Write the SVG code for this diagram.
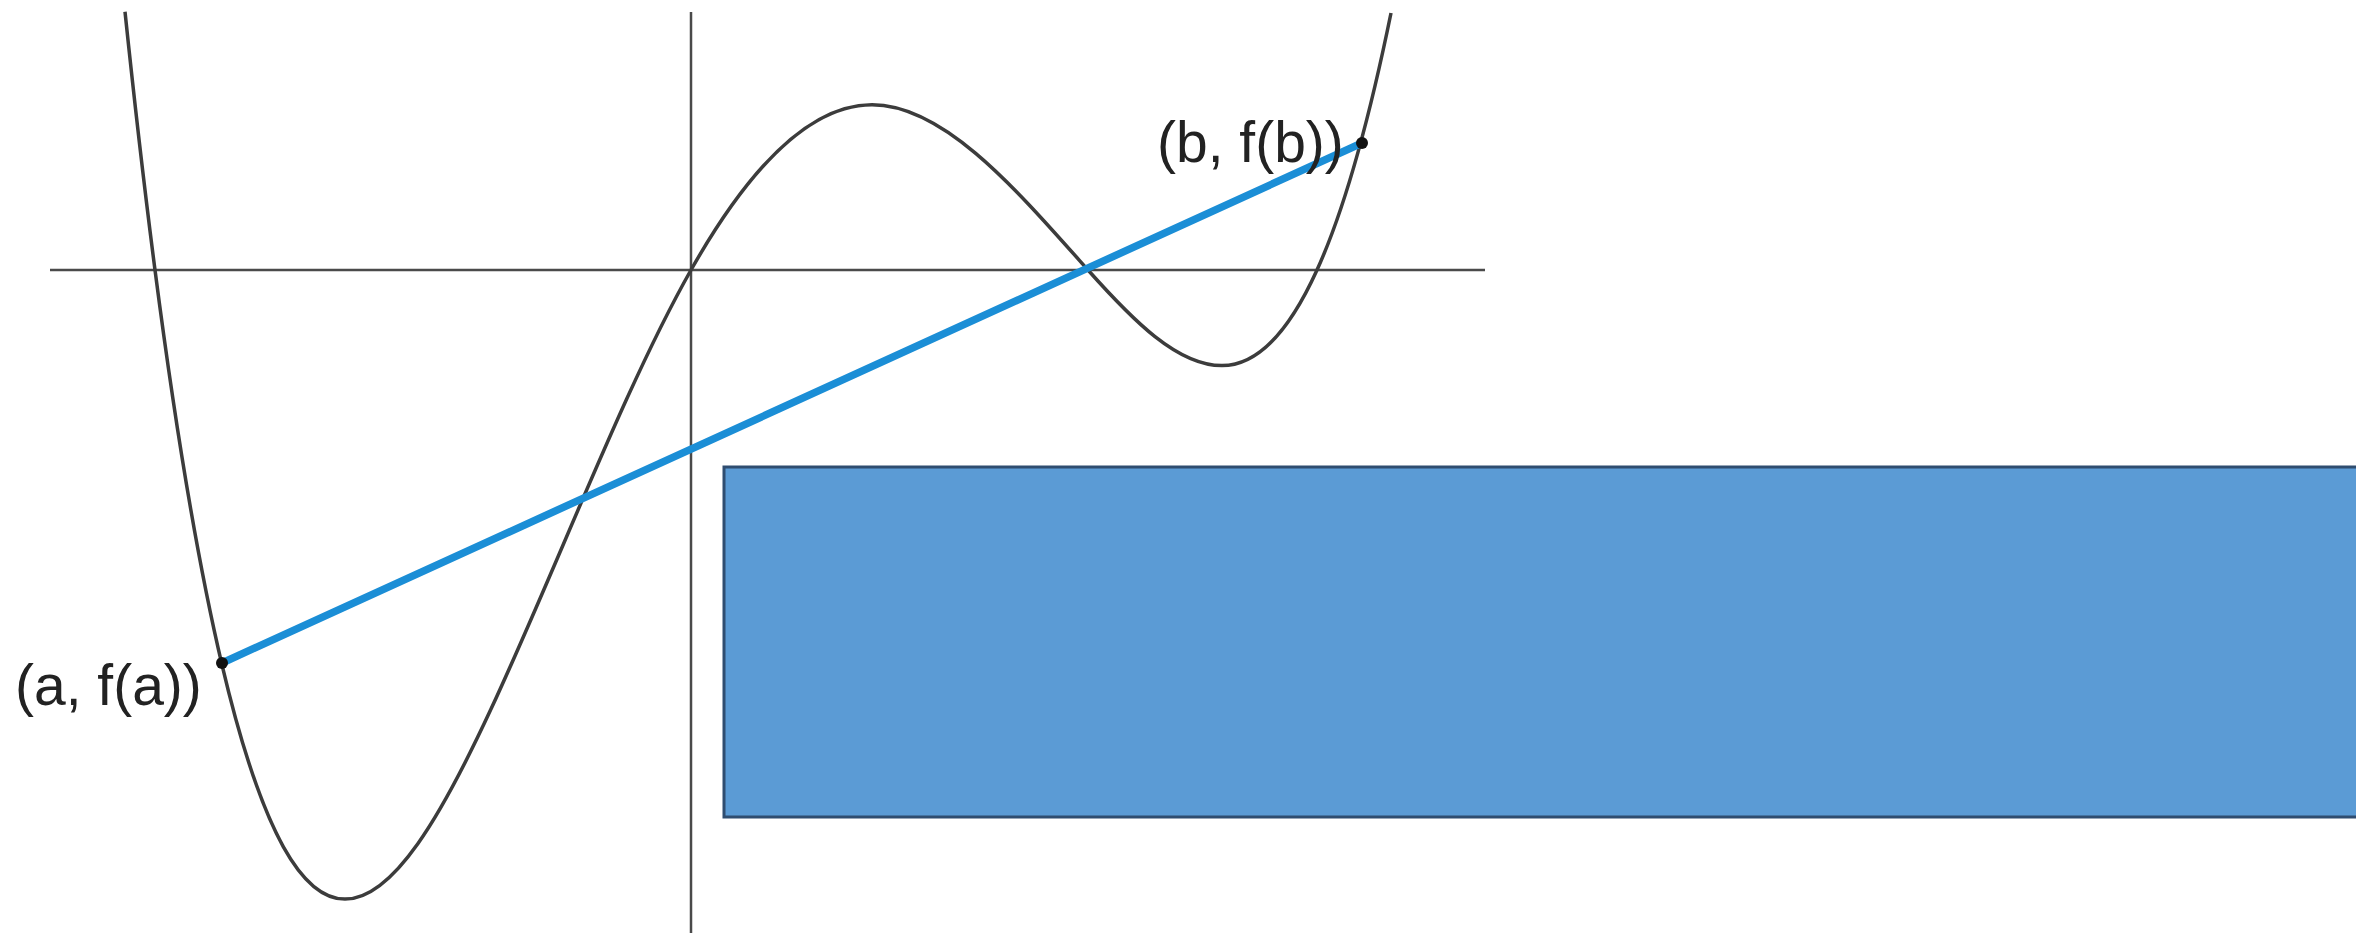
<svg xmlns="http://www.w3.org/2000/svg" width="2356" height="933" viewBox="0 0 2356 933">
<style>
.axis{stroke:#4a4a4a;stroke-width:2.5;fill:none}
.curve{stroke:#3c3c3c;stroke-width:3.5;fill:none}
.secant{stroke:#1b8ed6;stroke-width:7.5;stroke-linecap:round}
.dot{fill:#111}
.lbl{font-family:"Liberation Sans",Arial,sans-serif;font-size:57px;fill:#222}
</style>
<rect width="2356" height="933" fill="#ffffff"/>
<g id="axes">
<line class="axis" x1="50" y1="270" x2="1485" y2="270"/>
<line class="axis" x1="691" y1="12" x2="691" y2="933"/>
</g>
<g id="curve">
<path class="curve" d="M125,11.7 C135,107.2 145,193 155,270 C177.3,441.9 199.7,570.2 222,664.8 C263,838.4 304,899.1 345,899.1 C393.7,899.1 442.3,814 491,709.1 C557.7,565.4 624.3,387.7 691,270 C751.3,163.5 811.7,104.7 872,104.7 C944,104.7 1016,189.1 1088,270 C1132.7,320.2 1177.3,365.6 1222,365.6 C1253.7,365.6 1285.3,339.9 1317,270 C1341.7,215.6 1366.3,133.8 1391,13"/>
</g>
<g id="connectors">
<line class="secant" x1="222" y1="663" x2="1362" y2="143"/>
</g>
<g id="point-a">
<circle class="dot" cx="222" cy="663" r="6"/>
<text class="lbl" x="15" y="705">(a, f(a))</text>
</g>
<g id="point-b">
<circle class="dot" cx="1362" cy="143" r="6"/>
<text class="lbl" x="1157" y="162">(b, f(b))</text>
</g>
<g id="box">
<rect x="724" y="467" width="1650" height="350" fill="#5b9bd5" stroke="#2f4d70" stroke-width="3"/>
</g>
</svg>
